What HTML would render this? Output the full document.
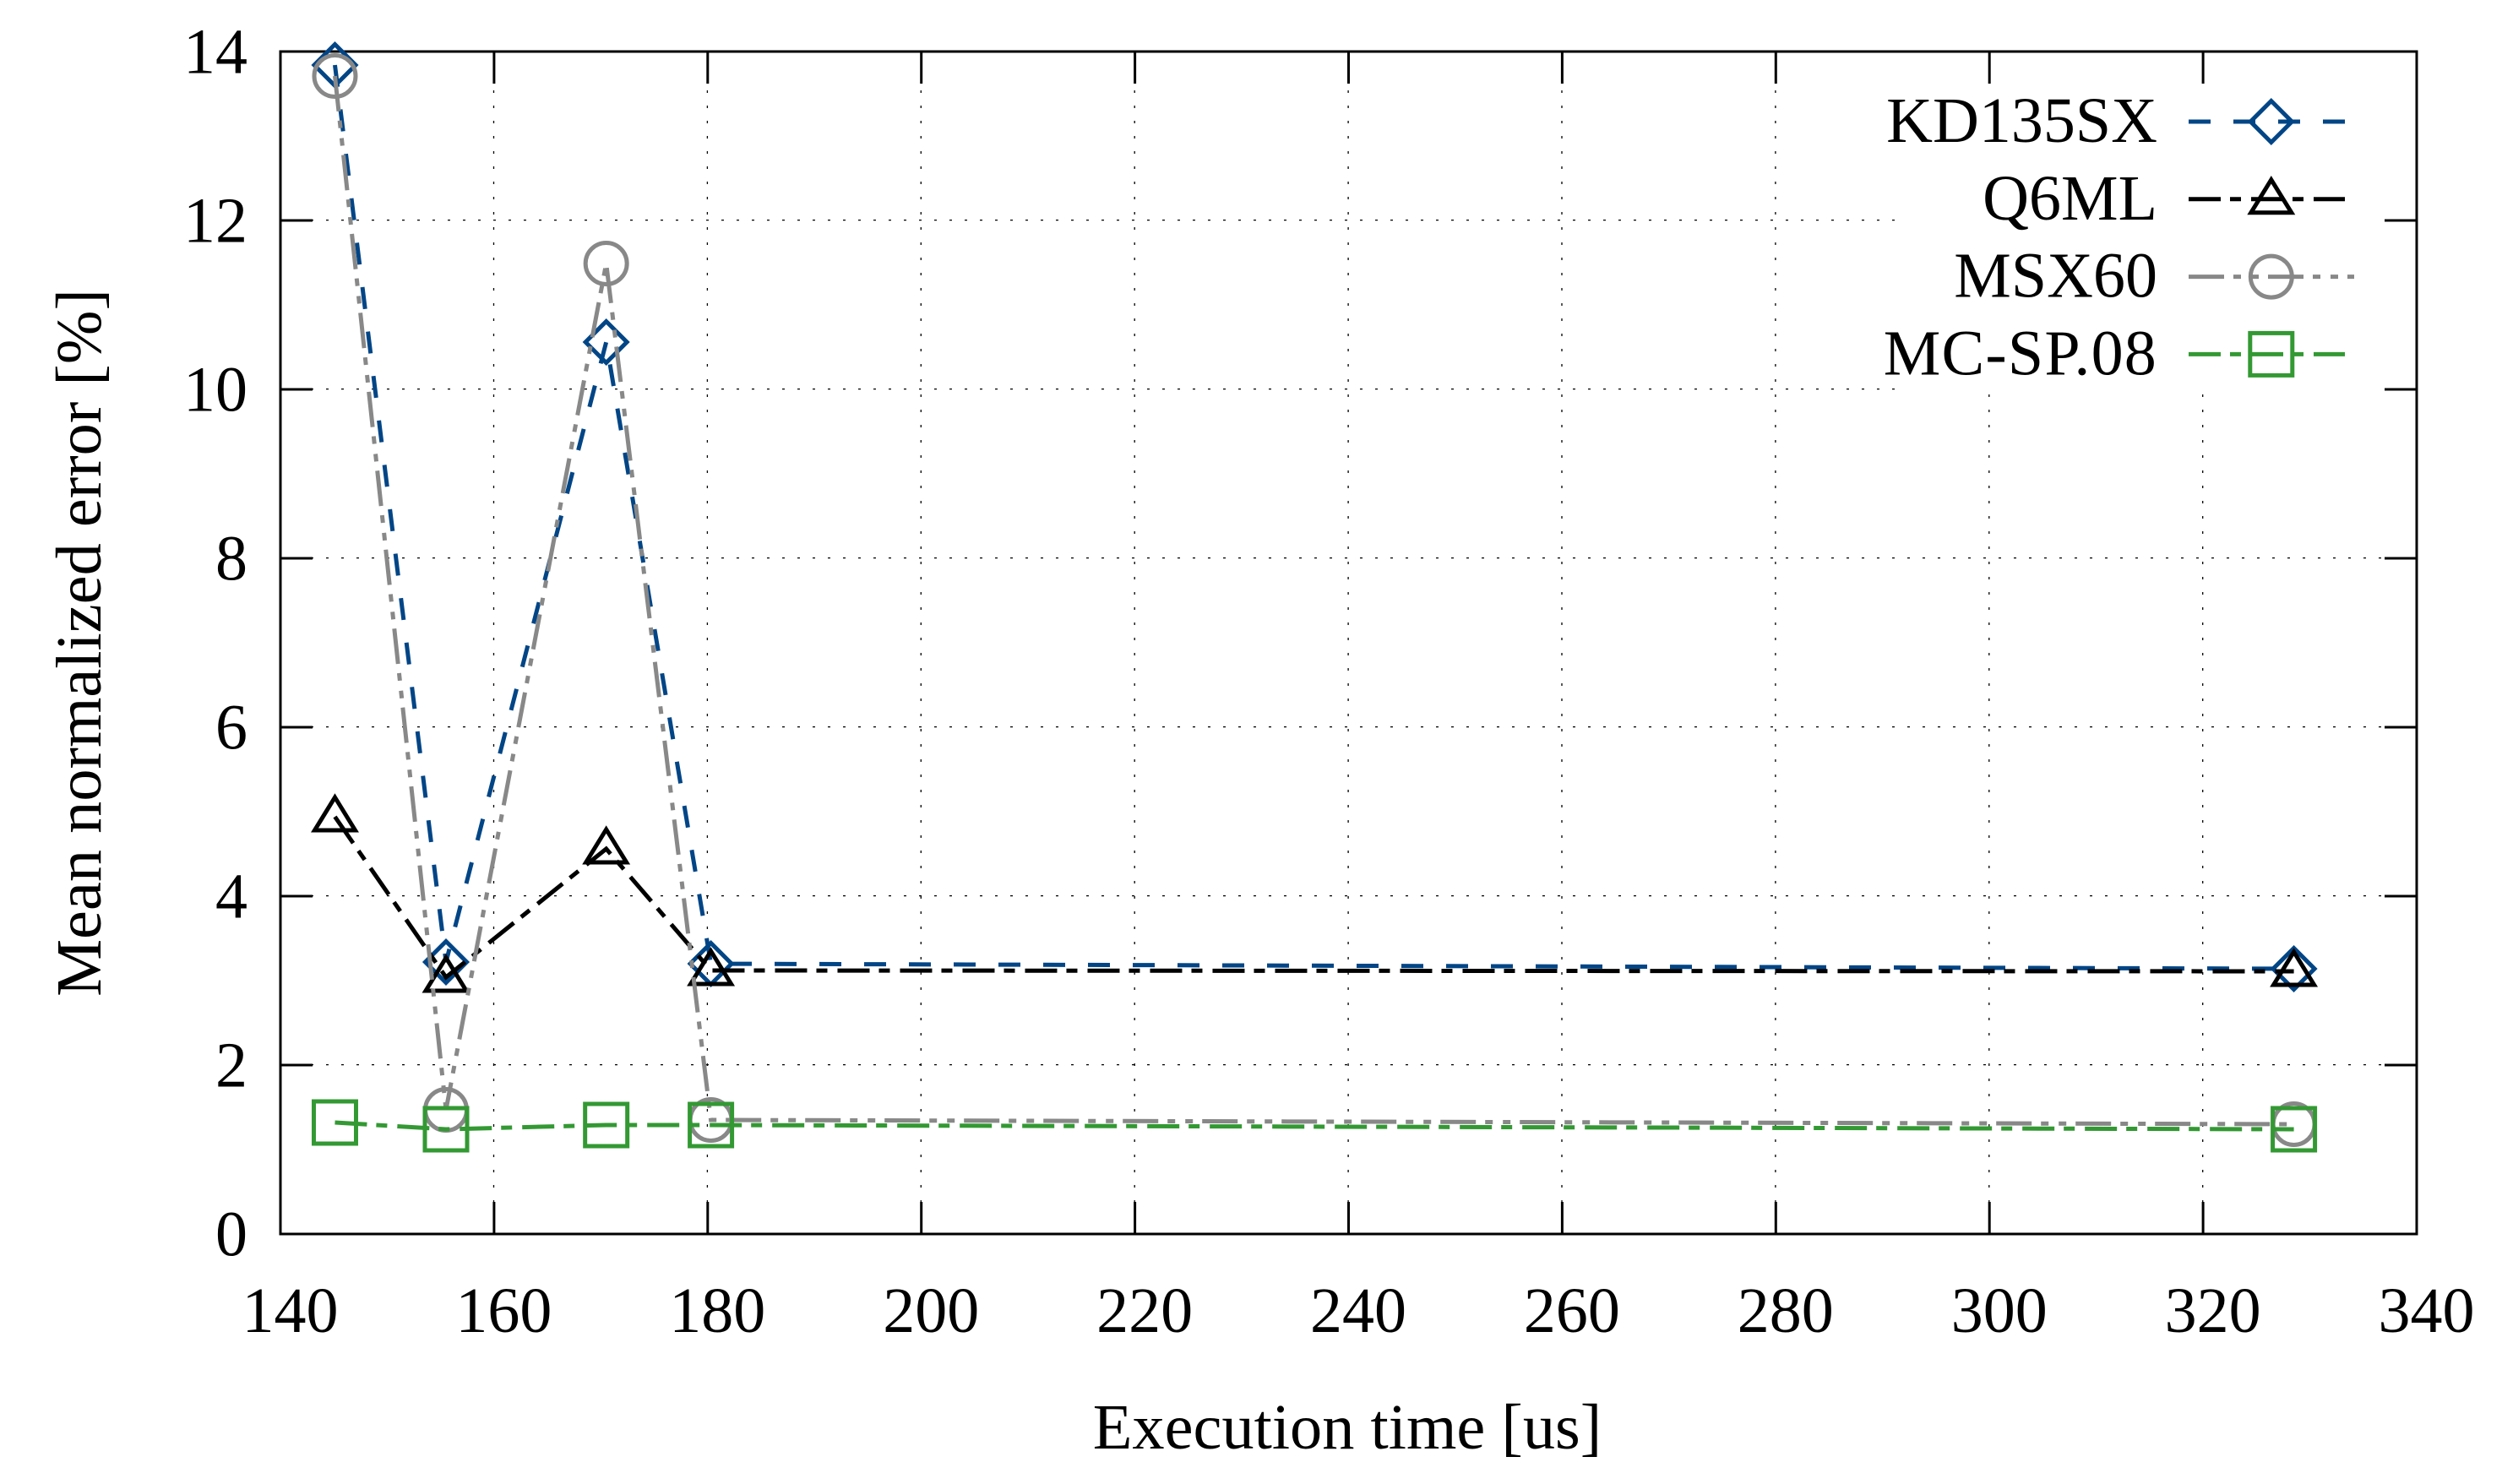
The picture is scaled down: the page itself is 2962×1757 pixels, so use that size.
<!DOCTYPE html>
<html>
<head>
<meta charset="utf-8">
<title>Mean normalized error vs execution time</title>
<style>
html,body{margin:0;padding:0;background:#fff;width:2962px;height:1757px;overflow:hidden}
svg{display:block}
text{font-family:"Liberation Serif","Times New Roman",serif;fill:#000}
</style>
</head>
<body>
<svg id="chart" xmlns="http://www.w3.org/2000/svg" width="2962" height="1757" viewBox="0 0 2962 1757">
  <rect x="0" y="0" width="2962" height="1757" fill="#fff"/>
  <g id="grid"></g>
  <rect x="2244" y="100" width="578" height="366" fill="#fff"/>
  <g id="ticks"></g>
  <rect x="332" y="61" width="2529" height="1400" fill="none" stroke="#000" stroke-width="3"/>
  <g id="tick-labels"></g>
  <text transform="translate(119,761) rotate(-90)" text-anchor="middle" font-size="76.4">Mean normalized error [%]</text>
  <text x="1595" y="1715" text-anchor="middle" font-size="76.4">Execution time [us]</text>
  <g id="series"></g>
  <g id="legend"></g>
</svg>
<script>
const xTickValues = [140,160,180,200,220,240,260,280,300,320,340];
const yTickValues = [0,2,4,6,8,10,12,14];
const seriesNames = ['KD135SX','Q6ML','MSX60','MC-SP.08'];
const seriesColors = ['#004586','#000000','#888888','#339933'];
const seriesDashes = ['26 27','38 11 13 12','42 11 9 12 9 11','38 11 13 12'];
const seriesMarkers = ['diamond','triangle','circle','square'];
const executionTimes = [145.1,155.5,170.5,180.3,328.5];
const kd135sxValues = [13.84,3.22,10.56,3.20,3.14];
const q6mlValues = [4.94,3.04,4.56,3.12,3.11];
const msx60Values = [13.71,1.47,11.49,1.35,1.30];
const mcSpValues = [1.32,1.24,1.29,1.29,1.24];
const seriesValues = [kd135sxValues,q6mlValues,msx60Values,mcSpValues];

const NS = 'http://www.w3.org/2000/svg';
const plotLeft = 332, plotRight = 2861, plotTop = 61, plotBottom = 1461;
const xMin = 140, xMax = 340, yMin = 0, yMax = 14;
function xScale(v){ return plotLeft + (v - xMin) / (xMax - xMin) * (plotRight - plotLeft); }
function yScale(v){ return plotBottom - (v - yMin) / (yMax - yMin) * (plotBottom - plotTop); }
function mk(tag, attrs, parent){
  const el = document.createElementNS(NS, tag);
  for (const k in attrs) el.setAttribute(k, attrs[k]);
  parent.appendChild(el);
  return el;
}
const gridG = document.getElementById('grid');
const ticksG = document.getElementById('ticks');
const labelsG = document.getElementById('tick-labels');
const seriesG = document.getElementById('series');
const legendG = document.getElementById('legend');
const tickLen = 38;

xTickValues.forEach(function(v){
  const x = xScale(v);
  if (v !== xMin && v !== xMax) {
    const g = mk('line',{x1:x-0.4,x2:x-0.4,y1:plotBottom,y2:plotTop,stroke:'#000','stroke-width':1.3,'stroke-dasharray':'3 15','stroke-dashoffset':-1},gridG);
    
    
    const t1 = mk('line',{x1:x,x2:x,y1:plotBottom,y2:plotBottom-tickLen,stroke:'#000','stroke-width':3},ticksG);
    
    
    const t2 = mk('line',{x1:x,x2:x,y1:plotTop,y2:plotTop+tickLen,stroke:'#000','stroke-width':3},ticksG);
    
    
  }
  const lab = mk('text',{x:x+11.5,y:1577,'text-anchor':'middle','font-size':76},labelsG);
  lab.textContent = String(v);
  
  
});

yTickValues.forEach(function(v){
  const y = yScale(v);
  if (v !== yMin && v !== yMax) {
    const g = mk('line',{x1:plotLeft,x2:plotRight,y1:y-0.4,y2:y-0.4,stroke:'#000','stroke-width':1.3,'stroke-dasharray':'3 15'},gridG);
    
    
    const t1 = mk('line',{x1:plotLeft,x2:plotLeft+tickLen,y1:y,y2:y,stroke:'#000','stroke-width':3},ticksG);
    
    
    const t2 = mk('line',{x1:plotRight,x2:plotRight-tickLen,y1:y,y2:y,stroke:'#000','stroke-width':3},ticksG);
    
    
  }
  const lab = mk('text',{x:293,y:y+25.5,'text-anchor':'end','font-size':76},labelsG);
  lab.textContent = String(v);
  
  
});

function drawMarker(kind, cx, cy, color, parent){
  const common = {fill:'none',stroke:color,'stroke-width':5,'stroke-miterlimit':10};
  let el;
  if (kind === 'diamond') {
    el = mk('polygon',Object.assign({points:[[cx,cy-24.5],[cx+24.5,cy],[cx,cy+24.5],[cx-24.5,cy]].join(' ')},common),parent);
  } else if (kind === 'triangle') {
    el = mk('polygon',Object.assign({points:[[cx,cy-23],[cx+24,cy+16],[cx-24,cy+16]].join(' ')},common),parent);
  } else if (kind === 'circle') {
    el = mk('circle',Object.assign({cx:cx,cy:cy,r:24.5},common),parent);
  } else {
    el = mk('rect',Object.assign({x:cx-25,y:cy-25,width:50,height:50},common),parent);
  }
  return el;
}

seriesNames.forEach(function(name, i){
  const values = seriesValues[i];
  const group = mk('g',{},seriesG);
  
  
  const pts = executionTimes.map(function(t, j){ return xScale(t) + ',' + yScale(values[j]); }).join(' ');
  const line = mk('polyline',{points:pts,fill:'none',stroke:seriesColors[i],'stroke-width':5,'stroke-dasharray':seriesDashes[i],'stroke-linejoin':'miter'},group);
  
  
  executionTimes.forEach(function(t, j){
    const m = drawMarker(seriesMarkers[i], xScale(t), yScale(values[j]), seriesColors[i], group);
    
    
  });

  const rowY = 144 + i * 91.8;
  const lab = mk('text',{x:2554,y:rowY+24,'text-anchor':'end','font-size':76},legendG);
  lab.textContent = name;
  if (name === 'MC-SP.08') lab.setAttribute('letter-spacing', '1.2');
  
  
  const sampleEnd = seriesMarkers[i] === 'circle' ? 2787 : 2776;
  const sample = mk('line',{x1:2591,x2:sampleEnd,y1:rowY,y2:rowY,stroke:seriesColors[i],'stroke-width':5,'stroke-dasharray':seriesDashes[i]},legendG);
  
  
  const mark = drawMarker(seriesMarkers[i], 2688.8, rowY, seriesColors[i], legendG);
  
  
});
</script>
</body>
</html>
